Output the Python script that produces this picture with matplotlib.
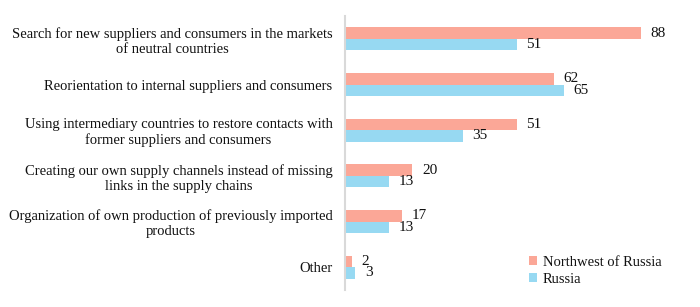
import matplotlib
matplotlib.use("Agg")
import matplotlib.pyplot as plt
import numpy as np

categories = [
    "Search for new suppliers and consumers in the markets\nof neutral countries",
    "Reorientation to internal suppliers and consumers",
    "Using intermediary countries to restore contacts with\nformer suppliers and consumers",
    "Creating our own supply channels instead of missing\nlinks in the supply chains",
    "Organization of own production of previously imported\nproducts",
    "Other",
]
northwest = [88, 62, 51, 20, 17, 2]
russia = [51, 65, 35, 13, 13, 3]
series_names = ["Northwest of Russia", "Russia"]
colors = ["#FBA797", "#97D9F2"]

plt.rcParams['font.family'] = ['Liberation Serif', 'DejaVu Serif']

fig = plt.figure(figsize=(7.0, 3.07), dpi=100)
ax = fig.add_axes([345/700, 17/307, 355/700, 274/307])

y = np.arange(len(categories))
h = 0.255
b1 = ax.barh(y - h/2, northwest, height=h, color=colors[0], label=series_names[0])
b2 = ax.barh(y + h/2, russia, height=h, color=colors[1], label=series_names[1])

for bars, vals in ((b1, northwest), (b2, russia)):
    for rect, v in zip(bars, vals):
        ax.annotate(str(v), (rect.get_width(), rect.get_y() + rect.get_height()/2),
                    xytext=(7, 0), textcoords="offset points",
                    ha="left", va="center", fontsize=11, color="#111111")

ax.set_xlim(0, 105.5)
ax.set_ylim(len(categories) - 0.5, -0.5)
ax.set_yticks(y)
ax.set_yticklabels(categories, fontsize=10.5, color="#111111")
for lab in ax.get_yticklabels():
    lab.set_multialignment("center")
ax.tick_params(axis="y", length=0, pad=9)
ax.set_xticks([])
for s in ("top", "right", "bottom"):
    ax.spines[s].set_visible(False)
ax.spines["left"].set_color("#d9d9d9")
ax.spines["left"].set_linewidth(1.5)

leg = ax.legend(loc="lower left", bbox_to_anchor=(0.503, -0.005), frameon=False,
                fontsize=10.5, handlelength=0.55, handleheight=0.55,
                handletextpad=0.35, labelspacing=0.25, borderaxespad=0.0)
for t in leg.get_texts():
    t.set_color("#111111")

fig.savefig("out.png", dpi=100)
